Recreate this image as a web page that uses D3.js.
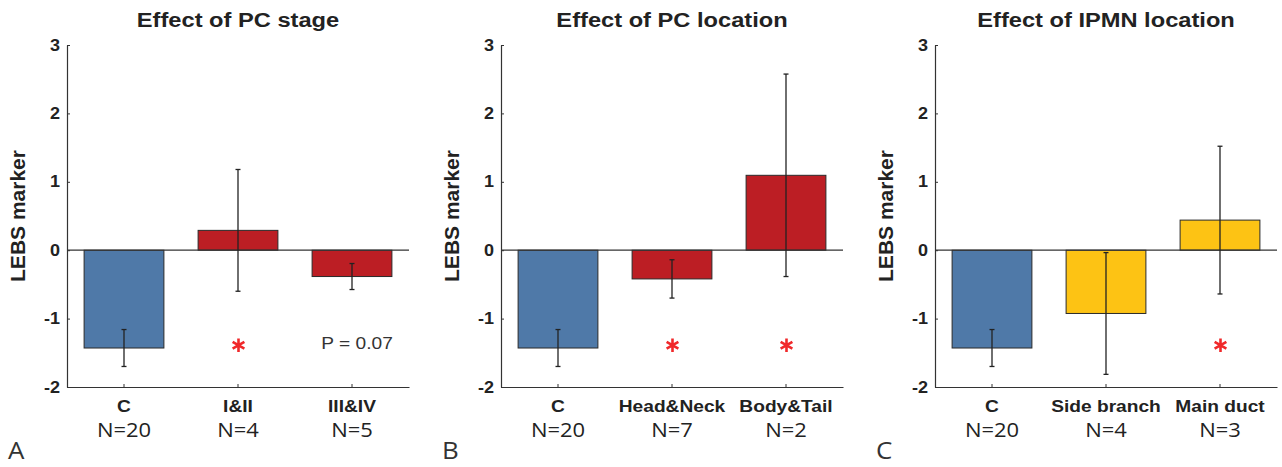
<!DOCTYPE html>
<html>
<head>
<meta charset="utf-8">
<script src="https://cdn.jsdelivr.net/npm/d3@7"></script>
<style>
  body { margin: 0; background: #fff; }
  svg { display: block; }
</style>
</head>
<body>
<div id="chart"></div>
<script>
// Donnees
var titres = ["Effect of PC stage", "Effect of PC location", "Effect of IPMN location"];
var lettres = ["A", "B", "C"];

var categoriesA = ["C", "I&II", "III&IV"];
var effectifsA = ["N=20", "N=4", "N=5"];
var moyennesA = [-1.43, 0.29, -0.385];
var erreursA = [0.27, 0.89, 0.19];
var etoilesA = [false, true, false];

var categoriesB = ["C", "Head&Neck", "Body&Tail"];
var effectifsB = ["N=20", "N=7", "N=2"];
var moyennesB = [-1.43, -0.42, 1.095];
var erreursB = [0.27, 0.28, 1.48];
var etoilesB = [false, true, true];

var categoriesC = ["C", "Side branch", "Main duct"];
var effectifsC = ["N=20", "N=4", "N=3"];
var moyennesC = [-1.43, -0.925, 0.44];
var erreursC = [0.27, 0.89, 1.08];
var etoilesC = [false, false, true];

var graduations = [-2, -1, 0, 1, 2, 3];
var valeurEtoile = -1.39;
var noteP = "P = 0.07";

var bleu = "#4f79a8", rouge = "#bc1e24", jaune = "#fdc314";
var couleursA = [bleu, rouge, rouge];
var couleursB = [bleu, rouge, rouge];
var couleursC = [bleu, jaune, jaune];

// Mise en page
var largeur = 1282, hauteur = 467;
var etirement = 1.127; // le texte de la figure est etire horizontalement
var encre = "#222";

var svg = d3.select("#chart").append("svg").attr("width", largeur).attr("height", hauteur);
svg.append("rect").attr("width", largeur).attr("height", hauteur).attr("fill", "#fff");

var y = d3.scaleLinear().domain([-2, 3]).range([387, 45]);

var panneaux = [
  { x0: 67, cats: categoriesA, n: effectifsA, moy: moyennesA, err: erreursA, etoiles: etoilesA, couleurs: couleursA },
  { x0: 501, cats: categoriesB, n: effectifsB, moy: moyennesB, err: erreursB, etoiles: etoilesB, couleurs: couleursB },
  { x0: 935, cats: categoriesC, n: effectifsC, moy: moyennesC, err: erreursC, etoiles: etoilesC, couleurs: couleursC }
];

panneaux.forEach(function (p, k) { dessinerPanneau(p, k); });

function texte (g, x, yy, contenu, taille, gras, famille, ancre, couleur) {
  return g.append("text")
    .attr("transform", "translate(" + x + "," + yy + ") scale(" + etirement + ",1)")
    .attr("text-anchor", ancre || "middle")
    .attr("font-family", famille || "'Liberation Sans', Arial, sans-serif")
    .attr("font-weight", gras ? "bold" : "normal")
    .attr("font-size", taille)
    .attr("fill", couleur || encre)
    .text(contenu);
}

function dessinerPanneau (p, k) {
  var g = svg.append("g").attr("transform", "translate(" + p.x0 + ",0)");
  var x = d3.scaleBand().domain(p.cats).range([0, 342]).paddingInner(0.3).paddingOuter(0.15);
  var lignes = p.cats.map(function (c, i) {
    return { cat: c, n: p.n[i], moy: p.moy[i], err: p.err[i], etoile: p.etoiles[i], couleur: p.couleurs[i] };
  });

  // Titre
  texte(g, 171, 27, titres[k], 21, true);

  // Barres
  g.selectAll("rect.barre").data(lignes).enter().append("rect")
    .attr("class", "barre")
    .attr("x", function (d) { return x(d.cat); })
    .attr("width", x.bandwidth())
    .attr("y", function (d) { return y(Math.max(0, d.moy)); })
    .attr("height", function (d) { return Math.abs(y(d.moy) - y(0)); })
    .attr("fill", function (d) { return d.couleur; })
    .attr("stroke", "#2a2a2a")
    .attr("stroke-width", 1);

  // Ligne du zero
  g.append("line")
    .attr("x1", 0).attr("x2", 342)
    .attr("y1", y(0)).attr("y2", y(0))
    .attr("stroke", "#333").attr("stroke-width", 1.2);

  // Barres d'erreur
  var erreurs = g.selectAll("g.erreur").data(lignes).enter().append("g")
    .attr("class", "erreur")
    .attr("transform", function (d) { return "translate(" + (x(d.cat) + x.bandwidth() / 2) + ",0)"; })
    .attr("stroke", "#222").attr("stroke-width", 1.3);
  erreurs.append("line")
    .attr("y1", function (d) { return y(d.moy + d.err); })
    .attr("y2", function (d) { return y(d.moy - d.err); });
  erreurs.append("line").attr("x1", -2.5).attr("x2", 2.5)
    .attr("y1", function (d) { return y(d.moy + d.err); })
    .attr("y2", function (d) { return y(d.moy + d.err); });
  erreurs.append("line").attr("x1", -2.5).attr("x2", 2.5)
    .attr("y1", function (d) { return y(d.moy - d.err); })
    .attr("y2", function (d) { return y(d.moy - d.err); });

  // Axes
  var axeY = g.append("g").call(d3.axisLeft(y).tickValues(graduations).tickFormat(function (d) { return String(d); })
    .tickSizeInner(-3).tickSizeOuter(0).tickPadding(7));
  var axeX = g.append("g").attr("transform", "translate(0," + y(-2) + ")")
    .call(d3.axisBottom(x).tickSizeInner(-3).tickSizeOuter(0).tickPadding(13));
  [axeY, axeX].forEach(function (a) {
    a.select(".domain").attr("stroke", "#333").attr("stroke-width", 1.2);
    a.selectAll(".tick line").attr("stroke", "#333");
    a.selectAll("text")
      .attr("font-family", "'Liberation Sans', Arial, sans-serif")
      .attr("font-weight", "bold")
      .attr("fill", encre);
  });
  axeY.selectAll("text").attr("font-size", 16)
    .attr("x", -7 / etirement)
    .attr("transform", "scale(" + etirement + ",1)");
  axeX.selectAll("text").attr("font-size", 17).attr("transform", "scale(" + etirement + ",1)");

  // Effectifs
  lignes.forEach(function (d) {
    texte(g, x(d.cat) + x.bandwidth() / 2, 437, d.n, 19.5, false, "'Open Sans', sans-serif");
  });

  // Etoiles
  g.selectAll("path.etoile").data(lignes.filter(function (d) { return d.etoile; })).enter().append("path")
    .attr("class", "etoile")
    .attr("transform", function (d) { return "translate(" + (x(d.cat) + x.bandwidth() / 2 + 0.5) + "," + y(valeurEtoile) + ")"; })
    .attr("d", d3.symbol(d3.symbolAsterisk, 130))
    .attr("stroke", "#f0282a").attr("stroke-width", 2.6).attr("fill", "none");

  if (k === 0) {
    texte(g, x(p.cats[2]) + x.bandwidth() / 2 + 5, 349, noteP, 17, false, null, "middle", "#333");
  }

  // Titre de l'axe
  g.append("text")
    .attr("transform", "translate(-42," + 216 + ") rotate(-90)")
    .attr("text-anchor", "middle")
    .attr("font-family", "'Liberation Sans', Arial, sans-serif")
    .attr("font-weight", "bold")
    .attr("font-size", 21)
    .attr("fill", encre)
    .text("LEBS marker");

  // Lettre du panneau
  texte(svg, p.x0 - 59, 459, lettres[k], 23, false, "'Open Sans', sans-serif", "start", "#333");
}
</script>
</body>
</html>
